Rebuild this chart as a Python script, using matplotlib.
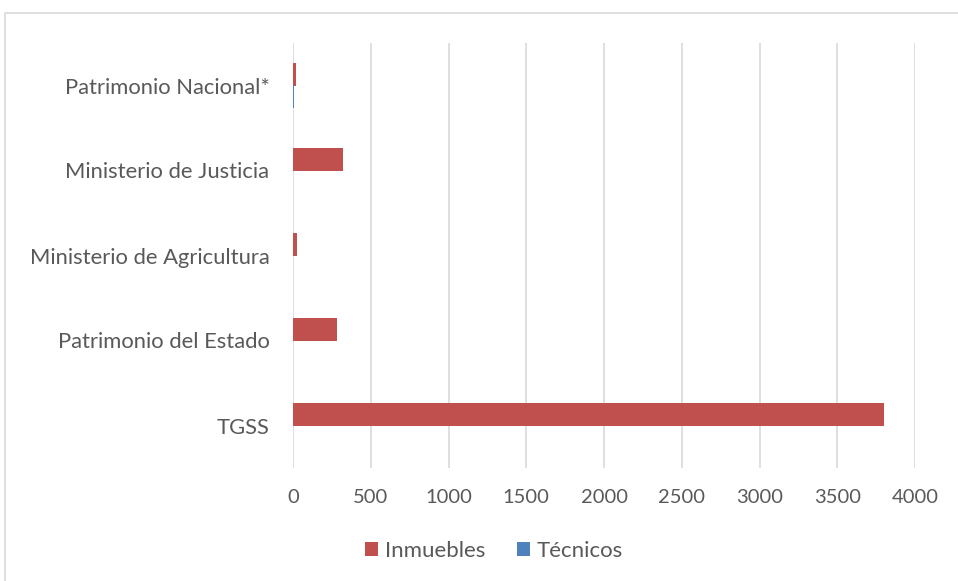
import numpy as np
import matplotlib.pyplot as plt
from matplotlib.patches import Rectangle

categories = ['TGSS', 'Patrimonio del Estado', 'Ministerio de Agricultura',
              'Ministerio de Justicia', 'Patrimonio Nacional*']
inmuebles = [3800, 281, 24, 324, 17]
tecnicos = [0, 2, 1, 3, 9]
xticks = [0, 500, 1000, 1500, 2000, 2500, 3000, 3500, 4000]

RED = '#C0504D'
BLUE = '#4F81BD'
GREY = '#595959'

plt.rcParams['font.family'] = ['Lato', 'DejaVu Sans']

fig = plt.figure(figsize=(9.58, 5.81), dpi=100)
ax = fig.add_axes([293/958, 1-468/581, 622/958, 425/581])

# chart border like the office frame
fig.patches.append(Rectangle((5/958, -0.1), 1.0, 1-13/581+0.1, transform=fig.transFigure,
                             fill=False, edgecolor='#D9D9D9', linewidth=1.2))

y = np.arange(len(categories))
h = 0.26
ax.barh(y + h/2, inmuebles, height=h, color=RED, label='Inmuebles', zorder=3)
ax.barh(y - h/2, tecnicos, height=h, color=BLUE, label='Técnicos', zorder=3)

ax.set_xlim(0, 4000)
ax.set_ylim(-0.5, len(categories) - 0.5)
ax.set_xticks(xticks)
ax.set_xticklabels([str(t) for t in xticks])
ax.set_yticks(y)
ax.set_yticklabels(categories)
ax.tick_params(axis='both', length=0, colors=GREY)
ax.tick_params(axis='x', pad=15, labelsize=14.5)
ax.tick_params(axis='y', pad=17, labelsize=15.8)
ax.grid(axis='x', color='#D9D9D9', linewidth=1.2, zorder=0)
for s in ax.spines.values():
    s.set_visible(False)

fig.legend(loc='center', bbox_to_anchor=(494/958, 1-551/581), ncol=2, frameon=False,
           fontsize=16, labelcolor=GREY, handlelength=0.6, handleheight=0.6,
           handletextpad=0.3, columnspacing=1.4)

fig.savefig('out.png', dpi=100)
